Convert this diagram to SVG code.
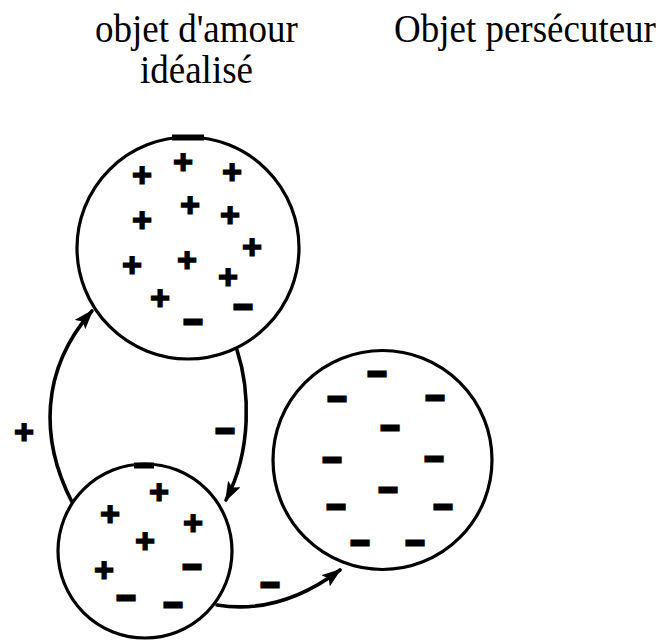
<svg xmlns="http://www.w3.org/2000/svg" width="664" height="641" viewBox="0 0 664 641">
  <style>
    .bg { fill: #ffffff; }
    .ring { fill: none; stroke: #000; stroke-width: 3.2; }
    .title { font-family: "Liberation Serif", "Times New Roman", serif; font-size: 37px; fill: #000; }
    .sign { font-family: "Liberation Sans", Arial, sans-serif; fill: #000; stroke: #000; text-anchor: middle; }
    .p { font-size: 32px; stroke-width: 3; }
    .m { font-size: 30px; stroke-width: 4.8; }
    .edge { fill: none; stroke: #000; stroke-width: 3.6; stroke-linecap: round; marker-end: url(#head); }
  </style>
  <defs>
    <marker id="head" markerUnits="userSpaceOnUse" viewBox="0 0 20 14" refX="18" refY="7" markerWidth="20" markerHeight="14" orient="auto">
      <path d="M0,0 L20,7 L0,14 L4,7 z" fill="#000"/>
    </marker>
  </defs>
  <rect class="bg" x="0" y="0" width="664" height="641"/>

  <!-- headings, slightly stretched vertically -->
  <g id="labels" transform="scale(1,1.08)">
    <text class="title" x="95" y="38.9">objet d'amour</text>
    <text class="title" x="140" y="76.8">idéalisé</text>
    <text class="title" x="394" y="38.9">Objet persécuteur</text>
  </g>

  <!-- connectors between the three circles -->
  <g id="connectors">
    <path class="edge" d="M72,502 C40,440 40,370 92,311"/>
    <path class="edge" d="M237,350 C250,390 252,450 226,500"/>
    <path class="edge" d="M217,605 C260,612 300,600 340,570"/>
    <text class="sign p" x="24" y="443">+</text>
    <text class="sign m" x="225" y="441">−</text>
    <text class="sign m" x="270" y="595">−</text>
  </g>

  <!-- idealised love object -->
  <g id="objet-idealise">
    <circle class="ring" cx="188" cy="248" r="111"/>
    <rect x="172" y="134.5" width="32" height="6"/>
    <text class="sign p" x="142" y="186">+</text>
    <text class="sign p" x="183" y="173">+</text>
    <text class="sign p" x="232" y="183">+</text>
    <text class="sign p" x="190" y="216">+</text>
    <text class="sign p" x="142" y="231">+</text>
    <text class="sign p" x="230" y="226">+</text>
    <text class="sign p" x="252" y="258">+</text>
    <text class="sign p" x="132" y="276">+</text>
    <text class="sign p" x="187" y="271">+</text>
    <text class="sign p" x="228" y="288">+</text>
    <text class="sign p" x="160" y="309">+</text>
    <text class="sign m" x="243" y="317">−</text>
    <text class="sign m" x="193" y="332">−</text>
  </g>

  <!-- ego -->
  <g id="moi">
    <circle class="ring" cx="145" cy="551" r="87"/>
    <rect x="134" y="462.5" width="20" height="6"/>
    <text class="sign p" x="159" y="503">+</text>
    <text class="sign p" x="110" y="525">+</text>
    <text class="sign p" x="193" y="534">+</text>
    <text class="sign p" x="145" y="552">+</text>
    <text class="sign p" x="104" y="581">+</text>
    <text class="sign m" x="192" y="577">−</text>
    <text class="sign m" x="126" y="608">−</text>
    <text class="sign m" x="173" y="615">−</text>
  </g>

  <!-- persecuting object -->
  <g id="objet-persecuteur">
    <circle class="ring" cx="382.5" cy="460" r="109.5"/>
    <text class="sign m" x="377" y="384">−</text>
    <text class="sign m" x="337" y="409">−</text>
    <text class="sign m" x="435" y="408">−</text>
    <text class="sign m" x="390" y="438">−</text>
    <text class="sign m" x="332" y="470">−</text>
    <text class="sign m" x="434" y="469">−</text>
    <text class="sign m" x="388" y="500">−</text>
    <text class="sign m" x="336" y="517">−</text>
    <text class="sign m" x="443" y="517">−</text>
    <text class="sign m" x="360" y="553">−</text>
    <text class="sign m" x="415" y="553">−</text>
  </g>
</svg>
